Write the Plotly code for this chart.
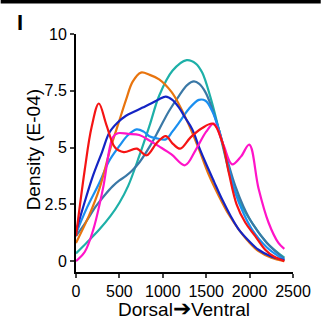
import plotly.graph_objects as go

# ---- data (density, E-04) ----
red_x = [0, 100, 180, 263, 350, 450, 550, 700, 813, 930, 1034, 1120, 1200, 1320, 1450, 1580, 1680, 1760, 1850, 1950, 2065, 2180, 2280, 2400]
red_y = [1.1, 4.0, 5.9, 6.94, 6.0, 5.0, 4.8, 4.95, 4.66, 5.2, 5.5, 5.15, 4.95, 5.45, 5.85, 6.05, 5.3, 3.9, 2.5, 1.7, 1.1, 0.5, 0.2, 0.0]

magenta_x = [0, 100, 200, 309, 424, 481, 600, 729, 850, 958, 1100, 1256, 1380, 1500, 1588, 1700, 1798, 1900, 1996, 2103, 2218, 2332, 2400]
magenta_y = [0.0, 0.4, 1.4, 3.16, 5.45, 5.63, 5.6, 5.55, 5.3, 5.05, 4.7, 4.22, 4.9, 5.7, 6.05, 5.1, 4.26, 4.6, 5.13, 3.2, 1.7, 0.8, 0.54]

orange_x = [0, 150, 271, 400, 500, 576, 653, 748, 850, 958, 1100, 1187, 1300, 1416, 1530, 1645, 1760, 1874, 1990, 2103, 2250, 2400]
orange_y = [0.8, 2.0, 3.2, 5.0, 6.2, 7.1, 7.9, 8.3, 8.2, 8.0, 7.45, 6.9, 6.0, 4.93, 3.8, 2.87, 2.05, 1.4, 0.85, 0.44, 0.15, 0.0]

teal_x = [0, 120, 271, 400, 500, 600, 729, 850, 958, 1111, 1275, 1380, 1454, 1550, 1645, 1720, 1798, 1900, 2027, 2200, 2400]
teal_y = [0.34, 0.8, 1.4, 2.0, 2.57, 3.3, 4.63, 6.0, 7.28, 8.38, 8.85, 8.7, 8.3, 7.2, 5.8, 4.6, 3.46, 2.5, 1.69, 0.8, 0.15]

darkblue_x = [0, 100, 195, 300, 385, 480, 576, 680, 767, 870, 958, 1034, 1110, 1187, 1260, 1340, 1420, 1492, 1590, 1683, 1780, 1874, 1990, 2103, 2250, 2400]
darkblue_y = [1.3, 2.6, 3.75, 4.8, 5.66, 6.1, 6.4, 6.6, 6.76, 6.95, 7.13, 7.24, 7.1, 6.76, 6.3, 5.8, 5.0, 4.34, 3.5, 2.72, 2.0, 1.4, 0.9, 0.5, 0.2, 0.04]

lightblue_x = [0, 120, 271, 380, 500, 600, 698, 780, 844, 940, 1034, 1110, 1187, 1300, 1416, 1492, 1570, 1645, 1740, 1836, 1930, 2027, 2200, 2400]
lightblue_y = [1.2, 2.3, 3.46, 4.4, 5.07, 5.55, 5.8, 5.7, 5.5, 5.4, 5.36, 5.7, 6.1, 6.7, 7.1, 7.06, 6.6, 5.8, 4.4, 3.0, 2.1, 1.4, 0.6, 0.05]

steel_x = [0, 110, 233, 330, 424, 500, 576, 650, 729, 850, 958, 1070, 1187, 1280, 1359, 1420, 1492, 1570, 1645, 1740, 1836, 1930, 2027, 2200, 2400]
steel_y = [1.1, 1.7, 2.43, 2.9, 3.3, 3.55, 3.75, 4.0, 4.34, 5.05, 5.8, 6.6, 7.28, 7.75, 7.91, 7.8, 7.43, 6.7, 5.8, 4.5, 3.3, 2.4, 1.69, 0.8, 0.1]

x_ticks = [0, 500, 1000, 1500, 2000, 2500]
y_ticks = [0, 2.5, 5, 7.5, 10]
y_tick_labels = ["0", "2.5", "5", "7.5", "10"]

series = [
    (teal_x, teal_y, "#1db0a8"),
    (steel_x, steel_y, "#3a78a6"),
    (lightblue_x, lightblue_y, "#1a8ff0"),
    (orange_x, orange_y, "#e8740e"),
    (darkblue_x, darkblue_y, "#1424c4"),
    (magenta_x, magenta_y, "#ff14c8"),
    (red_x, red_y, "#f51414"),
]

fig = go.Figure()
for xs, ys, c in series:
    fig.add_trace(go.Scatter(x=xs, y=ys, mode="lines",
                             line=dict(color=c, width=2.2, shape="spline", smoothing=1.0),
                             showlegend=False, hoverinfo="skip"))

FONT = "Liberation Sans, Arial, sans-serif"
PLOT_H = 321 - 34 - 49
fig.update_layout(
    width=323, height=321,
    margin=dict(l=76, r=28, t=34, b=49),
    paper_bgcolor="white", plot_bgcolor="white",
    font=dict(family=FONT, color="black"),
    xaxis=dict(range=[0, 2500], tickvals=x_ticks, ticks="outside", ticklen=4, tickwidth=2,
               showline=True, linecolor="black", linewidth=2, showgrid=False, zeroline=False,
               tickfont=dict(size=16, family=FONT), fixedrange=True),
    yaxis=dict(range=[-0.48, 10], tickvals=y_ticks, ticktext=y_tick_labels, ticks="outside",
               ticklen=4, tickwidth=2, showline=True, linecolor="black", linewidth=2,
               showgrid=False, zeroline=False, tickfont=dict(size=16, family=FONT), fixedrange=True),
    shapes=[dict(type="rect", xref="paper", yref="paper", x0=-76 / 219, x1=1 + 28 / 219,
                 y0=1 + (34 - 3.5) / PLOT_H, y1=1 + 34 / PLOT_H,
                 fillcolor="black", line=dict(width=0), layer="above")],
    annotations=[
        dict(text="<b>I</b>", xref="paper", yref="paper", x=-0.26, y=1.05, showarrow=False,
             xanchor="center", yanchor="middle", font=dict(size=22, family=FONT)),
        dict(text="Density (E-04)", xref="paper", yref="paper", x=-0.196, y=0.513, showarrow=False,
             textangle=-90, xanchor="center", yanchor="middle", font=dict(size=19, family=FONT)),
        dict(text="Dorsal<span style='font-size:22px'>\u2794</span>Ventral", xref="paper", yref="paper",
             x=0.498, y=-0.152, showarrow=False,
             xanchor="center", yanchor="middle", font=dict(size=19, family=FONT)),
    ],
)
fig.write_html("out.html", config={"displayModeBar": False},
               post_script="document.documentElement.style.margin='0';document.body.style.margin='0';document.body.style.padding='0';")
